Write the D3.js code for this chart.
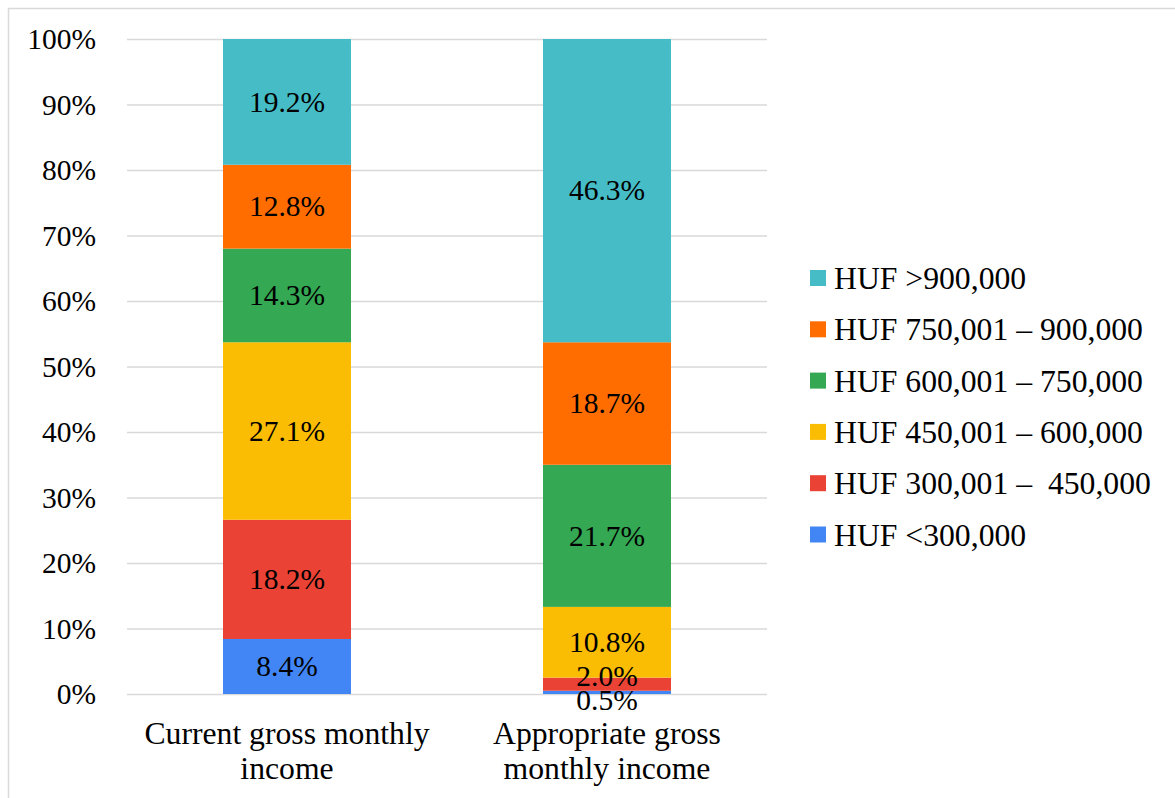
<!DOCTYPE html>
<html>
<head>
<meta charset="utf-8">
<script src="https://cdn.jsdelivr.net/npm/d3@7"></script>
<style>
  html, body { margin: 0; padding: 0; background: #fff; }
  svg { display: block; }
  svg text { font-family: "Liberation Serif", "Times New Roman", serif; fill: #000; }
</style>
</head>
<body>
<svg id="chart" width="1175" height="798"></svg>
<script>
// Income brackets (bottom to top of stack)
const brackets = [
  "HUF <300,000",
  "HUF 300,001 \u2013  450,000",
  "HUF 450,001 \u2013 600,000",
  "HUF 600,001 \u2013 750,000",
  "HUF 750,001 \u2013 900,000",
  "HUF >900,000"
];
const colors = ["#4285F4", "#EA4335", "#FBBC04", "#34A853", "#FF6D01", "#46BDC6"];

const categories = ["Current gross monthly income", "Appropriate gross monthly income"];
const categoryLines = [["Current gross monthly", "income"], ["Appropriate gross", "monthly income"]];

// Percent share of each bracket, per category
const currentIncome = [8.4, 18.2, 27.1, 14.3, 12.8, 19.2];
const appropriateIncome = [0.5, 2.0, 10.8, 21.7, 18.7, 46.3];

const yTicks = [0, 10, 20, 30, 40, 50, 60, 70, 80, 90, 100];

const rows = categories.map((c, i) => {
  const vals = i === 0 ? currentIncome : appropriateIncome;
  const r = { category: c };
  brackets.forEach((b, j) => r[b] = vals[j]);
  return r;
});

const svg = d3.select("#chart");
const W = 1175, H = 798;

// outer frame
svg.append("rect")
  .attr("x", 8.5).attr("y", 8.5)
  .attr("width", W + 10).attr("height", H + 10)
  .attr("fill", "none").attr("stroke", "#d9d9d9").attr("stroke-width", 1.5);

const plot = { left: 127, right: 767, top: 39, bottom: 694 };

const x = d3.scaleBand()
  .domain(categories)
  .range([plot.left, plot.right])
  .paddingInner(0.6)
  .paddingOuter(0.3);

const y = d3.scaleLinear().domain([0, 100]).range([plot.bottom, plot.top]);

// gridlines
svg.append("g")
  .selectAll("line")
  .data(yTicks)
  .join("line")
  .attr("x1", plot.left).attr("x2", plot.right)
  .attr("y1", d => y(d) + 0.5).attr("y2", d => y(d) + 0.5)
  .attr("stroke", "#d9d9d9").attr("stroke-width", 1.5);

// y axis labels
const yAxis = d3.axisLeft(y).tickValues(yTicks).tickFormat(d => d + "%").tickSize(0).tickPadding(31);
const yg = svg.append("g").attr("transform", `translate(${plot.left},0)`).call(yAxis);
yg.select(".domain").remove();
yg.attr("font-family", null).attr("font-size", null);
yg.selectAll("text")
  .style("font-size", "29.5px")
  .attr("dy", "0.33em");

// stacked bars
const stack = d3.stack().keys(brackets);
const series = stack(rows);

const groups = svg.append("g")
  .selectAll("g")
  .data(series)
  .join("g")
  .attr("fill", (d, i) => colors[i]);

groups.selectAll("rect")
  .data(d => d.map(p => ({ p, key: d.key })))
  .join("rect")
  .attr("x", d => x(d.p.data.category))
  .attr("width", x.bandwidth())
  .attr("y", d => y(d.p[1]))
  .attr("height", d => y(d.p[0]) - y(d.p[1]));

// value labels at segment centres; labels of thin neighbouring segments
// are pushed apart so they stay readable
const minGap = 24;
const labelData = [];
categories.forEach(c => {
  const items = series.map(s => {
    const p = s.find(q => q.data.category === c);
    return { cat: c, value: p[1] - p[0], cy: y((p[0] + p[1]) / 2) };
  });
  // items run bottom to top, so cy decreases
  for (let i = 0; i < items.length - 1; i++) {
    const a = items[i], b = items[i + 1];
    if (a.cy - b.cy < minGap) {
      const mid = (a.cy + b.cy) / 2;
      a.cy = mid + minGap / 2;
      b.cy = mid - minGap / 2;
    }
  }
  labelData.push(...items);
});

svg.append("g")
  .selectAll("text")
  .data(labelData)
  .join("text")
  .attr("x", d => x(d.cat) + x.bandwidth() / 2)
  .attr("y", d => d.cy)
  .attr("dy", "0.33em")
  .attr("text-anchor", "middle")
  .style("font-size", "29.5px")
  .text(d => d.value.toFixed(1) + "%");

// x axis category labels
const xg = svg.append("g");
categories.forEach((c, i) => {
  const t = xg.append("text")
    .attr("x", x(c) + x.bandwidth() / 2)
    .attr("y", 744)
    .attr("text-anchor", "middle")
    .style("font-size", "31.7px");
  categoryLines[i].forEach((line, k) => {
    t.append("tspan")
      .attr("x", x(c) + x.bandwidth() / 2)
      .attr("dy", k === 0 ? 0 : 35)
      .text(line);
  });
});

// legend (top bracket first)
const legendOrder = brackets.map((b, i) => i).reverse();
const legend = svg.append("g");
legendOrder.forEach((bi, k) => {
  const cy = 278 + k * 51.3;
  legend.append("rect")
    .attr("x", 810).attr("y", cy - 8)
    .attr("width", 16).attr("height", 16)
    .attr("fill", colors[bi]);
  legend.append("text")
    .attr("x", 834).attr("y", cy)
    .attr("dy", "0.35em")
    .style("font-size", "31.7px")
    .style("white-space", "pre")
    .text(brackets[bi]);
});
</script>
</body>
</html>
